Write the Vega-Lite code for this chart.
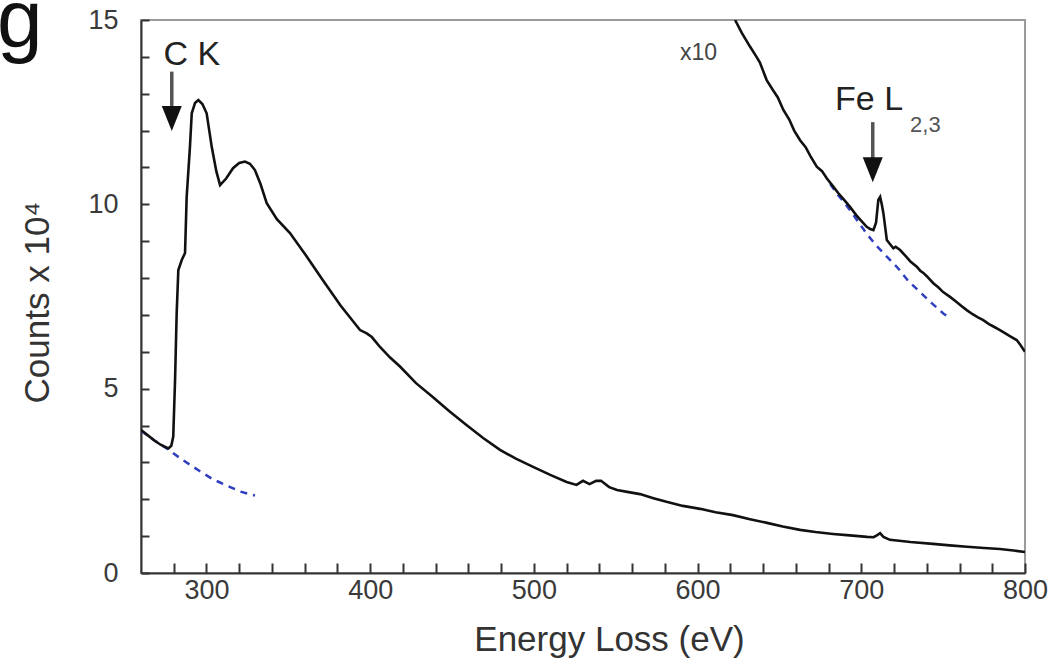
{
  "$schema": "https://vega.github.io/schema/vega-lite/v6.json",
  "width": 884,
  "height": 553,
  "autosize": {"type": "none"},
  "padding": {"left": 141, "top": 20, "right": 25, "bottom": 92},
  "background": "white",
  "config": {
    "view": {"stroke": "#9a9a9a", "strokeWidth": 2},
    "axis": {
      "grid": false,
      "labelFont": "Liberation Sans",
      "labelFontSize": 27,
      "labelColor": "#3a3a3a",
      "labelOverlap": false,
      "labelFlush": false,
      "titleFont": "Liberation Sans",
      "titleFontSize": 35,
      "titleFontWeight": "normal",
      "titleColor": "#333",
      "domainColor": "#333",
      "domainWidth": 2,
      "tickColor": "#333",
      "tickWidth": 2
    }
  },
  "datasets": {
    "main": [
      {"e": 260, "c": 3.88}, {"e": 264, "c": 3.74}, {"e": 268, "c": 3.6}, {"e": 272, "c": 3.48}, {"e": 276.7, "c": 3.38}, {"e": 278.5, "c": 3.45}, {"e": 279.7, "c": 3.7}, {"e": 280.8, "c": 5.23}, {"e": 281.8, "c": 7.05}, {"e": 282.8, "c": 8.22}, {"e": 284.9, "c": 8.49}, {"e": 286.9, "c": 8.68}, {"e": 287.9, "c": 10.2}, {"e": 289.9, "c": 11.56}, {"e": 291, "c": 12.47}, {"e": 293, "c": 12.75}, {"e": 295, "c": 12.83}, {"e": 297.5, "c": 12.72}, {"e": 300.1, "c": 12.47}, {"e": 303.2, "c": 11.56}, {"e": 306, "c": 10.9}, {"e": 308.3, "c": 10.52}, {"e": 312, "c": 10.7}, {"e": 316.2, "c": 10.98}, {"e": 320, "c": 11.12}, {"e": 323.5, "c": 11.16}, {"e": 326.5, "c": 11.1}, {"e": 329.6, "c": 10.93}, {"e": 333, "c": 10.55}, {"e": 336.8, "c": 10.03}, {"e": 343, "c": 9.6}, {"e": 351, "c": 9.22}, {"e": 361, "c": 8.6}, {"e": 371, "c": 7.95}, {"e": 382, "c": 7.25}, {"e": 393.8, "c": 6.59}, {"e": 397.9, "c": 6.5}, {"e": 401, "c": 6.4}, {"e": 406, "c": 6.13}, {"e": 412, "c": 5.85}, {"e": 418.2, "c": 5.6}, {"e": 428, "c": 5.15}, {"e": 438.4, "c": 4.77}, {"e": 448, "c": 4.4}, {"e": 459, "c": 4.01}, {"e": 469, "c": 3.66}, {"e": 479.3, "c": 3.34}, {"e": 489, "c": 3.1}, {"e": 499.5, "c": 2.88}, {"e": 510, "c": 2.66}, {"e": 520, "c": 2.47}, {"e": 526, "c": 2.39}, {"e": 530, "c": 2.5}, {"e": 534, "c": 2.41}, {"e": 538, "c": 2.5}, {"e": 541, "c": 2.5}, {"e": 546, "c": 2.33}, {"e": 550.8, "c": 2.25}, {"e": 557, "c": 2.2}, {"e": 564.8, "c": 2.14}, {"e": 573, "c": 2.03}, {"e": 581, "c": 1.93}, {"e": 591, "c": 1.82}, {"e": 601.5, "c": 1.74}, {"e": 611, "c": 1.65}, {"e": 621.6, "c": 1.57}, {"e": 632, "c": 1.46}, {"e": 642.4, "c": 1.36}, {"e": 652, "c": 1.26}, {"e": 662.6, "c": 1.17}, {"e": 672, "c": 1.11}, {"e": 682.7, "c": 1.06}, {"e": 693, "c": 1.02}, {"e": 703.5, "c": 0.98}, {"e": 707.5, "c": 0.97}, {"e": 709.5, "c": 1.02}, {"e": 711.5, "c": 1.08}, {"e": 713.5, "c": 0.98}, {"e": 717.5, "c": 0.9}, {"e": 730, "c": 0.84}, {"e": 743.8, "c": 0.79}, {"e": 754, "c": 0.75}, {"e": 764.6, "c": 0.71}, {"e": 775, "c": 0.68}, {"e": 784.7, "c": 0.65}, {"e": 793, "c": 0.61}, {"e": 800, "c": 0.57}
    ],
    "x10": [
      {"e": 622.9, "c": 15.0}, {"e": 627, "c": 14.65}, {"e": 632, "c": 14.28}, {"e": 636, "c": 14.0}, {"e": 638, "c": 13.85}, {"e": 642.2, "c": 13.37}, {"e": 646, "c": 13.1}, {"e": 649, "c": 12.9}, {"e": 652.4, "c": 12.56}, {"e": 656, "c": 12.3}, {"e": 659, "c": 12.0}, {"e": 662.6, "c": 11.74}, {"e": 666, "c": 11.55}, {"e": 669, "c": 11.3}, {"e": 672.8, "c": 11.02}, {"e": 676, "c": 10.9}, {"e": 679, "c": 10.7}, {"e": 682.9, "c": 10.48}, {"e": 686, "c": 10.3}, {"e": 689, "c": 10.15}, {"e": 693.1, "c": 9.93}, {"e": 697, "c": 9.7}, {"e": 700, "c": 9.55}, {"e": 703.3, "c": 9.39}, {"e": 705.5, "c": 9.33}, {"e": 707.4, "c": 9.3}, {"e": 709, "c": 9.5}, {"e": 710.4, "c": 10.12}, {"e": 711.5, "c": 10.2}, {"e": 712.5, "c": 10.0}, {"e": 713.5, "c": 9.76}, {"e": 715.6, "c": 9.03}, {"e": 717, "c": 8.95}, {"e": 719.6, "c": 8.81}, {"e": 721, "c": 8.85}, {"e": 723.7, "c": 8.76}, {"e": 727, "c": 8.6}, {"e": 730, "c": 8.45}, {"e": 733.9, "c": 8.31}, {"e": 736, "c": 8.2}, {"e": 737.9, "c": 8.14}, {"e": 740, "c": 8.05}, {"e": 744, "c": 7.86}, {"e": 747, "c": 7.75}, {"e": 750, "c": 7.62}, {"e": 754.2, "c": 7.49}, {"e": 758, "c": 7.36}, {"e": 761, "c": 7.25}, {"e": 764.4, "c": 7.13}, {"e": 768, "c": 7.02}, {"e": 771, "c": 6.94}, {"e": 774.5, "c": 6.86}, {"e": 778, "c": 6.75}, {"e": 781, "c": 6.68}, {"e": 784.7, "c": 6.59}, {"e": 788, "c": 6.5}, {"e": 791, "c": 6.42}, {"e": 794.9, "c": 6.32}, {"e": 797, "c": 6.2}, {"e": 800, "c": 6.0}
    ],
    "bg1": [
      {"e": 260, "c": 3.86}, {"e": 268, "c": 3.6}, {"e": 276, "c": 3.37}, {"e": 284, "c": 3.11}, {"e": 296, "c": 2.76}, {"e": 304, "c": 2.54}, {"e": 312, "c": 2.38}, {"e": 320.5, "c": 2.21}, {"e": 329.6, "c": 2.1}
    ],
    "bg2": [
      {"e": 681, "c": 10.55}, {"e": 685, "c": 10.3}, {"e": 693, "c": 9.85}, {"e": 703.3, "c": 9.2}, {"e": 709.4, "c": 8.87}, {"e": 716.5, "c": 8.54}, {"e": 722.6, "c": 8.26}, {"e": 728.7, "c": 7.92}, {"e": 735.9, "c": 7.62}, {"e": 743, "c": 7.32}, {"e": 750.1, "c": 7.04}, {"e": 754, "c": 6.92}
    ],
    "arrows": [
      {"e": 278.8, "top": 13.6, "head": 12.5, "tip": 11.99},
      {"e": 707, "top": 12.23, "head": 11.2, "tip": 10.6}
    ],
    "panel": [
      {"e": 172, "c": 14.27, "t": "g"}
    ],
    "bigLabels": [
      {"e": 273.7, "c": 13.78, "t": "C K"},
      {"e": 684, "c": 12.56, "t": "Fe L"}
    ],
    "subLabels": [
      {"e": 729.8, "c": 11.96, "t": "2,3"}
    ],
    "smallLabels": [
      {"e": 589.3, "c": 13.91, "t": "x10"}
    ]
  },
  "layer": [
    {
      "data": {"name": "bg1"},
      "mark": {"type": "line", "color": "#2f3fbf", "strokeWidth": 2.5, "strokeDash": [7, 6], "clip": true},
      "encoding": {
        "x": {"field": "e", "type": "quantitative", "scale": {"domain": [260, 800], "nice": false, "zero": false},
          "axis": {"orient": "bottom", "tickCount": 200, "format": "d", "values": [280, 300, 320, 340, 360, 380, 400, 420, 440, 460, 480, 500, 520, 540, 560, 580, 600, 620, 640, 660, 680, 700, 720, 740, 760, 780, 800],
            "labelExpr": "datum.value % 100 === 0 ? datum.label : ''",
            "tickSize": -10, "labelPadding": 14,
            "encode": {"ticks": {"update": {"y2": {"signal": "datum.value % 100 === 0 ? -10 : -6"}}}},
            "title": "Energy Loss (eV)", "titleX": 468, "titleY": 77, "titleBaseline": "alphabetic", "titleAnchor": "middle", "titleAlign": "center"}},
        "y": {"field": "c", "type": "quantitative", "scale": {"domain": [0, 15], "nice": false, "zero": false},
          "axis": {"orient": "left", "tickCount": 200, "format": "d", "values": [0, 1, 2, 3, 4, 5, 6, 7, 8, 9, 10, 11, 12, 13, 14, 15],
            "labelExpr": "datum.value % 5 === 0 ? datum.label : ''",
            "tickSize": -8, "labelPadding": 31,
            "encode": {"ticks": {"update": {"x2": {"signal": "datum.value % 5 === 0 ? 8 : 5"}}}},
            "title": "Counts x 10⁴", "titleX": -86, "titleY": 282, "titleAnchor": "middle"}}
      }
    },
    {
      "data": {"name": "main"},
      "mark": {"type": "line", "color": "#111", "strokeWidth": 2.6, "clip": true},
      "encoding": {
        "x": {"field": "e", "type": "quantitative"},
        "y": {"field": "c", "type": "quantitative"}
      }
    },
    {
      "data": {"name": "bg2"},
      "mark": {"type": "line", "color": "#2f3fbf", "strokeWidth": 2.5, "strokeDash": [7, 6], "clip": true},
      "encoding": {
        "x": {"field": "e", "type": "quantitative"},
        "y": {"field": "c", "type": "quantitative"}
      }
    },
    {
      "data": {"name": "x10"},
      "mark": {"type": "line", "color": "#111", "strokeWidth": 2.6, "clip": true},
      "encoding": {
        "x": {"field": "e", "type": "quantitative"},
        "y": {"field": "c", "type": "quantitative"}
      }
    },
    {
      "data": {"name": "arrows"},
      "mark": {"type": "rule", "color": "#555", "strokeWidth": 3.5},
      "encoding": {
        "x": {"field": "e", "type": "quantitative"},
        "y": {"field": "top", "type": "quantitative"},
        "y2": {"field": "head"}
      }
    },
    {
      "data": {"name": "arrows"},
      "mark": {"type": "point", "shape": "M-1,-2.5L1,-2.5L0,0Z", "size": 400, "filled": true, "color": "#111", "opacity": 1},
      "encoding": {
        "x": {"field": "e", "type": "quantitative"},
        "y": {"field": "tip", "type": "quantitative"}
      }
    },
    {
      "data": {"name": "panel"},
      "mark": {"type": "text", "font": "Liberation Sans", "fontSize": 82, "align": "left", "baseline": "alphabetic", "color": "#111"},
      "encoding": {
        "x": {"field": "e", "type": "quantitative"},
        "y": {"field": "c", "type": "quantitative"},
        "text": {"field": "t"}
      }
    },
    {
      "data": {"name": "bigLabels"},
      "mark": {"type": "text", "font": "Liberation Sans", "fontSize": 34, "align": "left", "baseline": "alphabetic", "color": "#222"},
      "encoding": {
        "x": {"field": "e", "type": "quantitative"},
        "y": {"field": "c", "type": "quantitative"},
        "text": {"field": "t"}
      }
    },
    {
      "data": {"name": "subLabels"},
      "mark": {"type": "text", "font": "Liberation Sans", "fontSize": 22, "align": "left", "baseline": "alphabetic", "color": "#555"},
      "encoding": {
        "x": {"field": "e", "type": "quantitative"},
        "y": {"field": "c", "type": "quantitative"},
        "text": {"field": "t"}
      }
    },
    {
      "data": {"name": "smallLabels"},
      "mark": {"type": "text", "font": "Liberation Sans", "fontSize": 23, "align": "left", "baseline": "alphabetic", "color": "#444"},
      "encoding": {
        "x": {"field": "e", "type": "quantitative"},
        "y": {"field": "c", "type": "quantitative"},
        "text": {"field": "t"}
      }
    }
  ]
}
